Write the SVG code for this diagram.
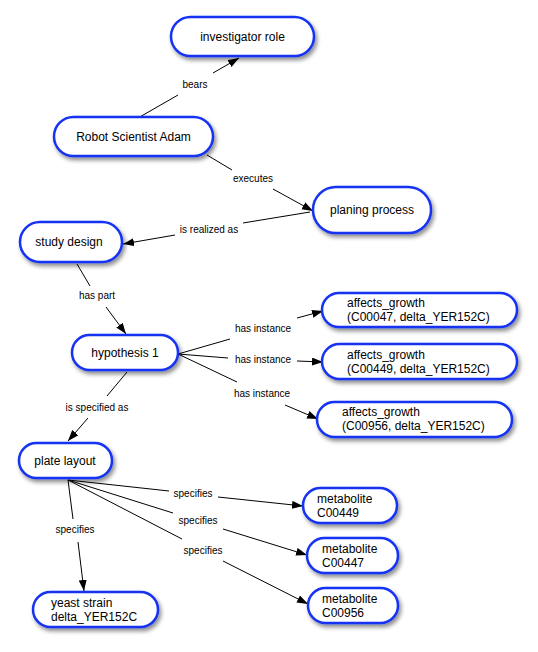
<svg xmlns="http://www.w3.org/2000/svg" width="538" height="652" viewBox="0 0 538 652">
  <style>
    .node rect { fill: #ffffff; stroke: #1532f2; stroke-width: 2.5; filter: url(#shadow); }
    .node text { font-family: "Liberation Sans", Arial, sans-serif; font-size: 12px; fill: #000; }
    .edges line { stroke: #000; stroke-width: 1; }
    .edges .arrow { marker-end: url(#head); }
    .lbl { font-family: "Liberation Sans", Arial, sans-serif; font-size: 10px; fill: #000; text-anchor: middle; }
  </style>
  <defs>
    <filter id="shadow" x="-20%" y="-30%" width="150%" height="180%">
      <feDropShadow dx="2" dy="3" stdDeviation="2" flood-color="#000" flood-opacity="0.45"/>
    </filter>
    <marker id="head" markerUnits="userSpaceOnUse" markerWidth="12" markerHeight="10" refX="11" refY="4" orient="auto">
      <path d="M0,0 L11,4 L0,8 Z" fill="#000"/>
    </marker>
  </defs>

  <rect width="538" height="652" fill="#ffffff"/>

  <g class="edges" id="edges">
    <!-- bears -->
    <line x1="138" y1="118" x2="178" y2="95"/>
    <line class="arrow" x1="213" y1="73" x2="239" y2="58"/>
    <text class="lbl" x="195" y="88">bears</text>
    <!-- executes -->
    <line x1="207" y1="155" x2="232" y2="170"/>
    <line class="arrow" x1="273" y1="189" x2="313" y2="211"/>
    <text class="lbl" x="253" y="182">executes</text>
    <!-- is realized as -->
    <line x1="310" y1="212" x2="243" y2="223"/>
    <line class="arrow" x1="175" y1="235" x2="123" y2="244"/>
    <text class="lbl" x="209" y="233">is realized as</text>
    <!-- has part -->
    <line x1="77" y1="264" x2="90" y2="286"/>
    <line class="arrow" x1="106" y1="307" x2="126" y2="334"/>
    <text class="lbl" x="97" y="299">has part</text>
    <!-- has instance (three) -->
    <line x1="178" y1="354" x2="230" y2="339"/>
    <line class="arrow" x1="297" y1="318" x2="323" y2="311"/>
    <text class="lbl" x="263" y="332">has instance</text>
    <line x1="178" y1="354" x2="228" y2="358"/>
    <line class="arrow" x1="297" y1="361" x2="323" y2="362"/>
    <text class="lbl" x="263" y="363">has instance</text>
    <line x1="178" y1="354" x2="237" y2="382"/>
    <line class="arrow" x1="285" y1="405" x2="318" y2="419"/>
    <text class="lbl" x="262" y="397">has instance</text>
    <!-- is specified as -->
    <line x1="127" y1="372" x2="107" y2="396"/>
    <line class="arrow" x1="88" y1="418" x2="68" y2="441"/>
    <text class="lbl" x="97" y="411">is specified as</text>
    <!-- specifies (four) -->
    <line x1="68" y1="480" x2="169" y2="491"/>
    <line class="arrow" x1="218" y1="497" x2="303" y2="506"/>
    <text class="lbl" x="193" y="497">specifies</text>
    <line x1="68" y1="480" x2="173" y2="513"/>
    <line class="arrow" x1="223" y1="529" x2="307" y2="555"/>
    <text class="lbl" x="198" y="524">specifies</text>
    <line x1="68" y1="480" x2="182" y2="539"/>
    <line class="arrow" x1="223" y1="561" x2="308" y2="604"/>
    <text class="lbl" x="203" y="554">specifies</text>
    <line x1="68" y1="480" x2="73" y2="519"/>
    <line class="arrow" x1="78" y1="542" x2="84" y2="591"/>
    <text class="lbl" x="75" y="533">specifies</text>
  </g>

  <g class="node" id="investigator-role">
    <rect x="171" y="17" width="143" height="39" rx="19.5"/>
    <text x="242.5" y="41" text-anchor="middle">investigator role</text>
  </g>
  <g class="node" id="robot-scientist-adam">
    <rect x="54" y="117" width="159" height="39" rx="19.5"/>
    <text x="133.5" y="141" text-anchor="middle">Robot Scientist Adam</text>
  </g>
  <g class="node" id="planing-process">
    <rect x="313" y="187" width="118" height="46" rx="23"/>
    <text x="372" y="214" text-anchor="middle">planing process</text>
  </g>
  <g class="node" id="study-design">
    <rect x="20" y="222" width="102" height="40" rx="20"/>
    <text x="69" y="246" text-anchor="middle">study design</text>
  </g>
  <g class="node" id="hypothesis-1">
    <rect x="72" y="335" width="106" height="35" rx="17.5"/>
    <text x="125" y="357" text-anchor="middle">hypothesis 1</text>
  </g>
  <g class="node" id="affects-growth-c00047">
    <rect x="322" y="293" width="195" height="34" rx="17"/>
    <text x="347" y="307">affects_growth</text>
    <text x="347" y="321">(C00047, delta_YER152C)</text>
  </g>
  <g class="node" id="affects-growth-c00449">
    <rect x="322" y="344" width="195" height="35" rx="17.5"/>
    <text x="347" y="359">affects_growth</text>
    <text x="347" y="373">(C00449, delta_YER152C)</text>
  </g>
  <g class="node" id="affects-growth-c00956">
    <rect x="317" y="402" width="195" height="35" rx="17.5"/>
    <text x="342" y="416">affects_growth</text>
    <text x="342" y="430">(C00956, delta_YER152C)</text>
  </g>
  <g class="node" id="plate-layout">
    <rect x="19" y="443" width="93" height="35" rx="17.5"/>
    <text x="65" y="465" text-anchor="middle">plate layout</text>
  </g>
  <g class="node" id="metabolite-c00449">
    <rect x="303" y="488" width="94" height="35" rx="17.5"/>
    <text x="317" y="503">metabolite</text>
    <text x="317" y="517">C00449</text>
  </g>
  <g class="node" id="metabolite-c00447">
    <rect x="307" y="538" width="91" height="35" rx="17.5"/>
    <text x="322" y="553">metabolite</text>
    <text x="322" y="567">C00447</text>
  </g>
  <g class="node" id="metabolite-c00956">
    <rect x="308" y="588" width="90" height="35" rx="17.5"/>
    <text x="322" y="603">metabolite</text>
    <text x="322" y="617">C00956</text>
  </g>
  <g class="node" id="yeast-strain">
    <rect x="33" y="592" width="125" height="35" rx="17.5"/>
    <text x="51" y="607">yeast strain</text>
    <text x="51" y="621">delta_YER152C</text>
  </g>
</svg>
